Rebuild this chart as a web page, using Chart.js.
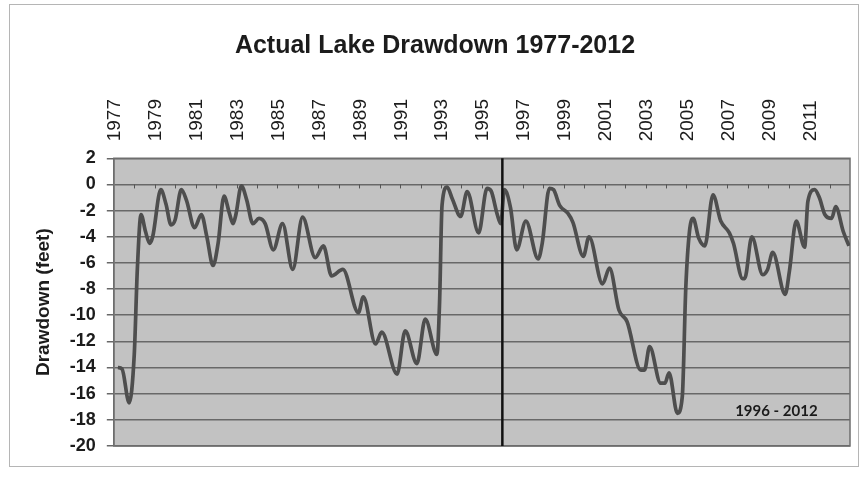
<!DOCTYPE html>
<html>
<head>
<meta charset="utf-8">
<script src="https://cdn.jsdelivr.net/npm/chart.js@4.4.1/dist/chart.umd.min.js"></script>
<style>
  html, body { margin: 0; padding: 0; background: #fff; }
  #wrap { position: relative; width: 864px; height: 479px; }
  #frame { position: absolute; left: 9px; top: 4px; width: 850px; height: 463px; border: 1px solid #b5b5b5; box-sizing: border-box; }
  canvas { position: absolute; left: 0; top: 0; }
</style>
</head>
<body>
<div id="wrap">
  <div id="frame"></div>
  <canvas id="chart" width="864" height="479"></canvas>
</div>
<script>
// decimal years and lake level (feet below full pool)
const years = [
  1977.2, 1977.4, 1977.75, 1978.0, 1978.15, 1978.33, 1978.55, 1978.75, 1978.9,
  1979.3, 1979.55, 1979.8, 1980.0, 1980.3, 1980.55, 1980.95, 1981.28, 1981.55,
  1981.85, 1982.1, 1982.39, 1982.65, 1982.83, 1982.97, 1983.24, 1983.5, 1983.8,
  1984.1, 1984.4, 1984.8, 1985.25, 1985.75, 1986.23, 1986.85, 1987.25, 1987.65,
  1988.2, 1988.96, 1989.2, 1989.8, 1990.1, 1990.85, 1991.25, 1991.82, 1992.23,
  1992.8, 1992.93, 1993.05, 1993.3, 1993.55, 1993.96, 1994.28, 1994.84, 1995.25,
  1995.45, 1995.75, 1995.92, 1996.1, 1996.4, 1996.7, 1997.15, 1997.75, 1997.95,
  1998.3, 1998.5, 1998.8, 1999.2, 1999.45, 1999.96, 2000.24, 2000.9, 2001.24,
  2001.7, 2002.1, 2002.77, 2002.95, 2003.2, 2003.74, 2003.95, 2004.15, 2004.56,
  2004.8, 2004.97, 2005.15, 2005.33, 2005.6, 2005.9, 2006.3, 2006.68, 2007.1,
  2007.3, 2007.75, 2007.85, 2008.2, 2008.73, 2008.97, 2009.22, 2009.83, 2010.04,
  2010.37, 2010.78, 2010.94, 2011.27, 2011.5, 2011.77, 2012.1, 2012.3, 2012.67,
  2012.95
];
const drawdown = [
  -14.0, -14.1, -16.7, -13.0, -6.5, -2.3, -3.6, -4.5, -4.0,
  -0.4, -1.5, -3.1, -2.7, -0.4, -1.2, -3.3, -2.3, -4.0,
  -6.2, -4.5, -0.9, -2.2, -3.0, -2.3, -0.1, -1.2, -3.0,
  -2.6, -3.0, -5.0, -3.0, -6.5, -2.5, -5.6, -4.7, -7.0,
  -6.5, -9.8, -8.6, -12.2, -11.3, -14.5, -11.2, -13.7, -10.3,
  -13.0, -9.0, -1.6, -0.2, -1.1, -2.45, -0.55, -3.7, -0.3,
  -0.5, -2.3, -3.0, -0.4, -1.8, -5.0, -2.8, -5.7, -4.5,
  -0.3, -0.4, -1.6, -2.2, -2.9, -5.5, -4.0, -7.6, -6.4,
  -9.6, -10.5, -14.2, -14.2, -12.4, -15.2, -15.2, -14.4, -17.5,
  -16.2, -7.9, -3.6, -2.6, -4.1, -4.7, -0.8, -2.8, -3.7,
  -4.5, -7.2, -7.2, -4.0, -6.9, -6.5, -5.2, -8.4, -6.6,
  -2.8, -4.8, -1.3, -0.4, -1.0, -2.3, -2.6, -1.7, -3.6,
  -4.7
];
const tickYears = [1977, 1979, 1981, 1983, 1985, 1987, 1989, 1991, 1993,
  1995, 1997, 1999, 2001, 2003, 2005, 2007, 2009, 2011];
const splitYear = 1996;
const periodLabel = '1996 - 2012';
const periodLabelPos = { x: 2009.4, y: -17.3 };

const FONT = '"Liberation Sans", Arial, Helvetica, sans-serif';
const INK = '#1c1c1c';

const plotDecor = {
  id: 'plotDecor',
  beforeDraw(chart) {
    const { ctx, chartArea: a } = chart;
    ctx.save();
    ctx.fillStyle = '#c2c2c2';
    ctx.fillRect(a.left, a.top, a.right - a.left, a.bottom - a.top);
    ctx.restore();
  },
  beforeDatasetsDraw(chart) {
    const { ctx, chartArea: a, scales: { x, y } } = chart;
    ctx.save();
    // frame around plot
    ctx.strokeStyle = '#6e6e6e';
    ctx.lineWidth = 1.5;
    ctx.strokeRect(a.left, a.top, a.right - a.left, a.bottom - a.top);
    // year marks hanging off the zero line
    const y0 = y.getPixelForValue(0);
    ctx.lineWidth = 1;
    ctx.strokeStyle = '#555';
    ctx.beginPath();
    for (let yr = 1978; yr <= 2012; yr++) {
      const px = Math.round(x.getPixelForValue(yr)) + 0.5;
      ctx.moveTo(px, y0);
      ctx.lineTo(px, y0 + 4);
    }
    ctx.stroke();
    ctx.restore();
  },
  afterDatasetsDraw(chart) {
    const { ctx, chartArea: a, scales: { x, y } } = chart;
    ctx.save();
    const xs = x.getPixelForValue(splitYear);
    ctx.strokeStyle = '#111';
    ctx.lineWidth = 2.5;
    ctx.beginPath();
    ctx.moveTo(xs, a.top);
    ctx.lineTo(xs, a.bottom);
    ctx.stroke();
    ctx.fillStyle = '#1a1a1a';
    ctx.font = 'bold 15px Lato, "Open Sans", sans-serif';
    ctx.textAlign = 'center';
    ctx.textBaseline = 'middle';
    ctx.fillText(periodLabel, x.getPixelForValue(periodLabelPos.x), y.getPixelForValue(periodLabelPos.y));
    ctx.restore();
  }
};

new Chart(document.getElementById('chart'), {
  type: 'line',
  data: {
    datasets: [{
      label: 'Drawdown',
      data: years.map((yr, i) => ({ x: yr, y: drawdown[i] })),
      borderColor: '#4e4e4e',
      borderWidth: 3.7,
      pointRadius: 0,
      cubicInterpolationMode: 'monotone',
      fill: false
    }]
  },
  options: {
    responsive: false,
    animation: false,
    layout: { padding: { left: 20, right: 14, top: 0, bottom: 33 } },
    plugins: {
      legend: { display: false },
      tooltip: { enabled: false },
      title: {
        display: true,
        text: 'Actual Lake Drawdown 1977-2012',
        color: INK,
        font: { family: FONT, size: 25, weight: 'bold' },
        padding: { top: 31, bottom: 21 }
      }
    },
    scales: {
      x: {
        type: 'linear',
        position: 'top',
        min: 1977,
        max: 2013,
        afterBuildTicks: s => { s.ticks = tickYears.map(v => ({ value: v })); },
        grid: { display: false, drawTicks: false },
        border: { display: false },
        ticks: {
          minRotation: 90,
          maxRotation: 90,
          autoSkip: false,
          padding: 17,
          labelOffset: 24,
          color: INK,
          font: { family: FONT, size: 19 },
          callback: v => String(v)
        }
      },
      y: {
        min: -20,
        max: 2,
        grid: { color: '#686868', lineWidth: 1.5, tickLength: 7 },
        border: { display: true, color: '#686868', width: 1.5 },
        ticks: {
          stepSize: 2,
          autoSkip: false,
          padding: 11,
          color: INK,
          font: { family: FONT, size: 18, weight: 'bold' }
        },
        title: {
          display: true,
          text: 'Drawdown (feet)',
          color: INK,
          font: { family: FONT, size: 19, weight: 'bold' },
          padding: { top: 12, bottom: 4 }
        }
      }
    }
  },
  plugins: [plotDecor]
});
</script>
</body>
</html>
